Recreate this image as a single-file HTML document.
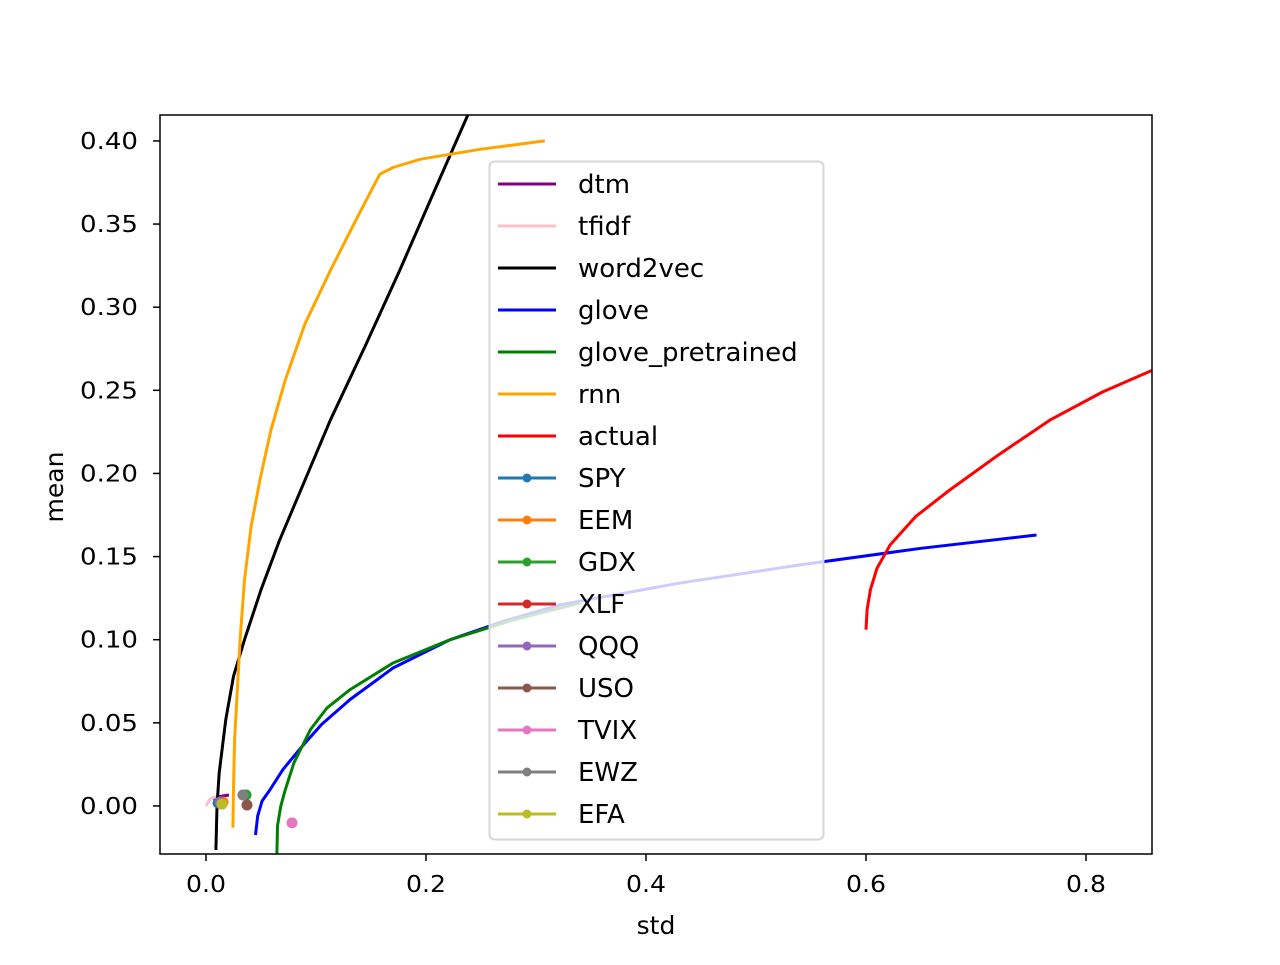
<!DOCTYPE html>
<html><head><meta charset="utf-8"><style>
html,body{margin:0;padding:0;background:#fff}
svg text{font-family:"DejaVu Sans","Liberation Sans",sans-serif}
</style></head><body>
<svg id="chart" width="1280" height="960" xmlns="http://www.w3.org/2000/svg">
<defs><clipPath id="pc"><rect x="160" y="115" width="992" height="739"/></clipPath></defs>
<rect width="1280" height="960" fill="#fff"/>
<g id="series" clip-path="url(#pc)"></g>
<g id="points" clip-path="url(#pc)"></g>
<g id="legend"></g>
<rect x="160" y="115" width="992" height="739" fill="none" stroke="#000" stroke-width="1.5"/>
<g id="axes"></g>
<text x="656" y="934" font-size="25" text-anchor="middle">std</text>
<text transform="translate(63,487) rotate(-90)" font-size="25" text-anchor="middle">mean</text>
</svg>
<script>
const xTicks=[0.0,0.2,0.4,0.6,0.8];
const xTickLabels=["0.0","0.2","0.4","0.6","0.8"];
const yTicks=[0,0.05,0.1,0.15,0.2,0.25,0.3,0.35,0.4];
const yTickLabels=["0.00","0.05","0.10","0.15","0.20","0.25","0.30","0.35","0.40"];
const lineNames=["dtm","tfidf","word2vec","glove","glove_pretrained","rnn","actual"];
const lineColors=["#800080","#ffc0cb","#000000","#0000ff","#008000","#ffa500","#ff0000"];
const dtmX=[0.0064,0.010,0.015,0.0209];
const dtmY=[0.0042,0.0054,0.0060,0.0066];
const tfidfX=[0.0,0.003,0.007,0.0109];
const tfidfY=[0.0,0.0036,0.0054,0.0048];
const w2vX=[0.009,0.010,0.012,0.018,0.025,0.035,0.050,0.067,0.090,0.113,0.145,0.176,0.207,0.238];
const w2vY=[-0.0265,0.0,0.020,0.052,0.078,0.100,0.130,0.160,0.196,0.232,0.277,0.322,0.369,0.4156];
const rnnX=[0.0245,0.025,0.026,0.028,0.031,0.035,0.041,0.049,0.059,0.072,0.090,0.113,0.136,0.158,0.170,0.195,0.250,0.308];
const rnnY=[-0.013,0.010,0.040,0.064,0.100,0.136,0.168,0.196,0.226,0.256,0.290,0.322,0.352,0.380,0.384,0.389,0.395,0.400];
const gloveX=[0.045,0.047,0.051,0.058,0.070,0.085,0.105,0.131,0.170,0.222,0.270,0.322,0.430,0.540,0.650,0.755];
const gloveY=[-0.0175,-0.006,0.003,0.0096,0.022,0.034,0.049,0.064,0.083,0.100,0.111,0.121,0.134,0.145,0.155,0.163];
const gloveptX=[0.0645,0.065,0.068,0.072,0.080,0.095,0.110,0.131,0.170,0.222,0.280,0.340];
const gloveptY=[-0.029,-0.012,0.0,0.0096,0.026,0.046,0.059,0.070,0.086,0.100,0.112,0.122];
const actualX=[0.600,0.601,0.604,0.610,0.622,0.645,0.676,0.720,0.767,0.815,0.860];
const actualY=[0.106,0.118,0.130,0.143,0.157,0.174,0.190,0.211,0.232,0.249,0.262];
const pointNames=["SPY","EEM","GDX","XLF","QQQ","USO","TVIX","EWZ","EFA"];
const pointColors=["#1f77b4","#ff7f0e","#2ca02c","#d62728","#9467bd","#8c564b","#e377c2","#7f7f7f","#bcbd22"];
const pointX=[0.011,0.0155,0.0364,0.0145,0.013,0.0373,0.0782,0.0336,0.0145];
const pointY=[0.0018,0.0024,0.0066,0.0012,0.0024,0.0006,-0.0102,0.0066,0.0012];

const X0=160,X1=1152,XMIN=-0.0418,XMAX=0.86,Y0=854,Y1=115,YMIN=-0.0289,YMAX=0.4156;
const sx=v=>X0+(v-XMIN)/(XMAX-XMIN)*(X1-X0);
const sy=v=>Y0-(v-YMIN)/(YMAX-YMIN)*(Y0-Y1);
const NS="http://www.w3.org/2000/svg";
function mk(t,a,p){const e=document.createElementNS(NS,t);for(const k in a)e.setAttribute(k,a[k]);p.appendChild(e);return e;}
const series=document.getElementById('series'),pts=document.getElementById('points'),axes=document.getElementById('axes'),leg=document.getElementById('legend');
const lx=[dtmX,tfidfX,w2vX,gloveX,gloveptX,rnnX,actualX],ly=[dtmY,tfidfY,w2vY,gloveY,gloveptY,rnnY,actualY];
lineNames.forEach((n,i)=>{
 const d=lx[i].map((v,j)=>(j?'L':'M')+sx(v).toFixed(1)+','+sy(ly[i][j]).toFixed(1)).join(' ');
 const p=mk('path',{d:d,fill:'none',stroke:lineColors[i],'stroke-width':3,'stroke-linejoin':'round'},series);
 
 
});
pointNames.forEach((n,i)=>{
 const c=mk('circle',{cx:sx(pointX[i]),cy:sy(pointY[i]),r:5.5,fill:pointColors[i]},pts);
 
 
});
xTicks.forEach((v,i)=>{
 const x=sx(v);
 const l=mk('line',{x1:x,x2:x,y1:854,y2:861,stroke:'#000','stroke-width':1.5},axes);
 
 
 const t=mk('text',{x:x,y:892,'font-size':23,'text-anchor':'middle',textLength:40,lengthAdjust:'spacingAndGlyphs'},axes);t.textContent=xTickLabels[i];
 
 
});
yTicks.forEach((v,i)=>{
 const y=sy(v);
 const l=mk('line',{x1:153,x2:160,y1:y,y2:y,stroke:'#000','stroke-width':1.5},axes);
 
 
 const t=mk('text',{x:80,y:y+8,'font-size':23,textLength:58,lengthAdjust:'spacingAndGlyphs'},axes);t.textContent=yTickLabels[i];
 
 
});
const box=mk('rect',{x:489.5,y:161.5,width:334,height:678,rx:5,fill:'#fff','fill-opacity':0.8,stroke:'#d6d6d6','stroke-width':2},leg);


const allN=lineNames.concat(pointNames),allC=lineColors.concat(pointColors);
allN.forEach((n,i)=>{
 const y=184+i*42;
 const g=mk('g',{},leg);
 
 
 mk('line',{x1:498,x2:556,y1:y,y2:y,stroke:allC[i],'stroke-width':3},g);
 if(i>=lineNames.length)mk('circle',{cx:527,cy:y,r:4.5,fill:allC[i]},g);
 const t=mk('text',{x:578,y:y+9,'font-size':26},g);t.textContent=n;
});
</script>
</body></html>
